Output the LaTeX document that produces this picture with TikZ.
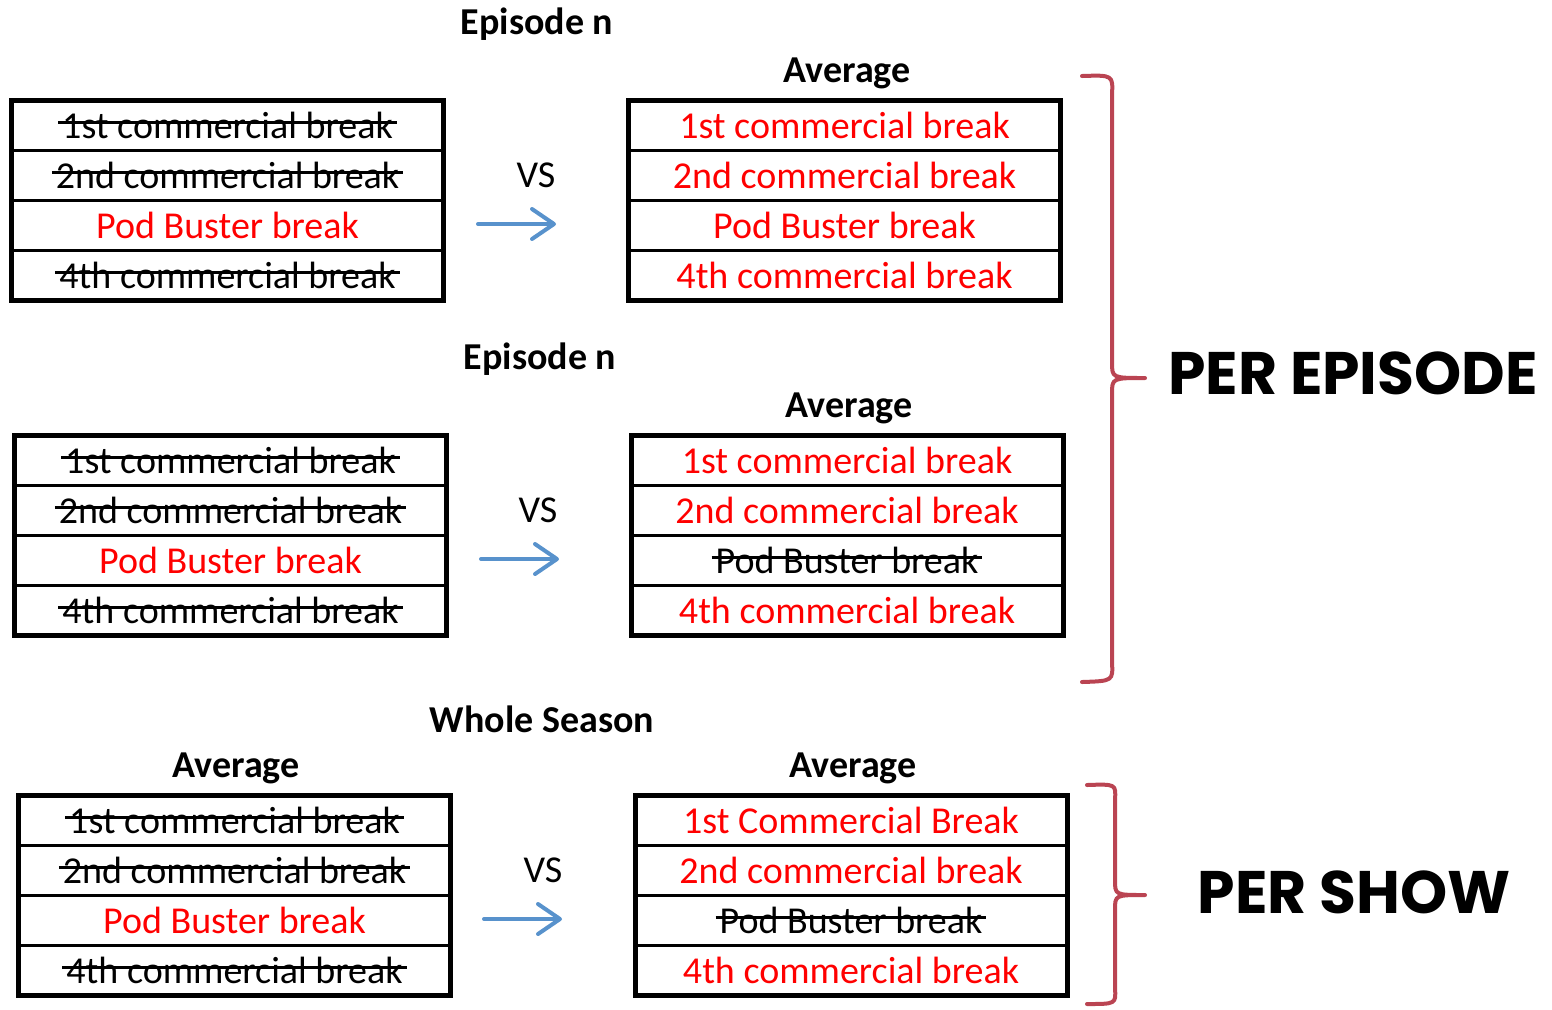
\documentclass[tikz,border=0pt]{standalone}
\usepackage{fontspec}
\setmainfont{Carlito}
\newfontfamily\labfont{Poppins}
\usetikzlibrary{arrows.meta}

\definecolor{arrblue}{RGB}{88,146,204}
\definecolor{bracered}{RGB}{186,68,82}

% struck out text
\newcommand\strk[1]{\leavevmode\setbox0\hbox{#1}%
  \makebox[0pt][l]{\hspace{-2pt}\rule[0.38em]{\dimexpr\wd0+4pt\relax}{1.4pt}}\box0}

\begin{document}
\begin{tikzpicture}[x=0.5pt,y=-0.5pt,
    brk/.style={draw,line width=1.5pt,minimum width=216pt,minimum height=25pt,
      inner sep=0pt,outer sep=0pt,font=\fontsize{19}{21}\selectfont},
    hdr/.style={font=\fontsize{19}{21}\selectfont\bfseries},
    vs/.style={font=\fontsize{19}{21}\selectfont},
    arr/.style={arrblue,line width=2pt,line cap=round,-{Straight Barb[length=11pt,width=15pt,round]}},
    brace/.style={bracered,line width=2pt,line cap=round,line join=round},
    big/.style={font=\labfont\bfseries\fontsize{30}{32}\selectfont}]
    \useasboundingbox (0,0) rectangle (1552,1009);

    % first episode
    \node[hdr] (ep1) at (537,24) {Episode n};
    \node[hdr] (av1) at (847,73) {Average};
    \node[brk] (a1) at (227.5,125.5) {\strk{1st commercial break}};
    \node[brk] (a2) at (227.5,175.5) {\strk{2nd commercial break}};
    \node[brk,text=red] (a3) at (227.5,225.5) {Pod Buster break};
    \node[brk] (a4) at (227.5,275.5) {\strk{4th commercial break}};
    \node[brk,text=red] (b1) at (844.5,125.5) {1st commercial break};
    \node[brk,text=red] (b2) at (844.5,175.5) {2nd commercial break};
    \node[brk,text=red] (b3) at (844.5,225.5) {Pod Buster break};
    \node[brk,text=red] (b4) at (844.5,275.5) {4th commercial break};
    \draw[line width=2.5pt] (a1.north west) rectangle (a4.south east);
    \draw[line width=2.5pt] (b1.north west) rectangle (b4.south east);
    \node[vs] (vs1) at (536,175) {VS};
    \coordinate (p1) at (478,224);
    \coordinate (q1) at (556,224);
    \draw[arr] (p1) -- (q1);

    % second episode
    \node[hdr] (ep2) at (540,359) {Episode n};
    \node[hdr] (av2) at (849,408) {Average};
    \node[brk] (c1) at (230.5,460.5) {\strk{1st commercial break}};
    \node[brk] (c2) at (230.5,510.5) {\strk{2nd commercial break}};
    \node[brk,text=red] (c3) at (230.5,560.5) {Pod Buster break};
    \node[brk] (c4) at (230.5,610.5) {\strk{4th commercial break}};
    \node[brk,text=red] (d1) at (847,460.5) {1st commercial break};
    \node[brk,text=red] (d2) at (847,510.5) {2nd commercial break};
    \node[brk] (d3) at (847,560.5) {\strk{Pod Buster break}};
    \node[brk,text=red] (d4) at (847,610.5) {4th commercial break};
    \draw[line width=2.5pt] (c1.north west) rectangle (c4.south east);
    \draw[line width=2.5pt] (d1.north west) rectangle (d4.south east);
    \node[vs] (vs2) at (538,510) {VS};
    \coordinate (p2) at (481,559);
    \coordinate (q2) at (559,559);
    \draw[arr] (p2) -- (q2);

    % whole season
    \node[hdr] (ws) at (542,719) {Whole Season};
    \node[hdr] (av3) at (236,768) {Average};
    \node[hdr] (av4) at (853,768) {Average};
    \node[brk] (e1) at (234.5,820.5) {\strk{1st commercial break}};
    \node[brk] (e2) at (234.5,870.5) {\strk{2nd commercial break}};
    \node[brk,text=red] (e3) at (234.5,920.5) {Pod Buster break};
    \node[brk] (e4) at (234.5,970.5) {\strk{4th commercial break}};
    \node[brk,text=red] (f1) at (851,820.5) {1st Commercial Break};
    \node[brk,text=red] (f2) at (851,870.5) {2nd commercial break};
    \node[brk] (f3) at (851,920.5) {\strk{Pod Buster break}};
    \node[brk,text=red] (f4) at (851,970.5) {4th commercial break};
    \draw[line width=2.5pt] (e1.north west) rectangle (e4.south east);
    \draw[line width=2.5pt] (f1.north west) rectangle (f4.south east);
    \node[vs] (vs3) at (543,870) {VS};
    \coordinate (p3) at (484,919);
    \coordinate (q3) at (562,919);
    \draw[arr] (p3) -- (q3);

    % braces
    \coordinate (T1) at (1082,76);
    \coordinate (T2) at (1145,378);
    \coordinate (T3) at (1082,682);
    \draw[brace] (T1) .. controls (1113,75) .. (1112,95) -- (1112,362)
      .. controls (1112,378) .. (T2) .. controls (1112,378) .. (1112,394)
      -- (1112,662) .. controls (1113,681) .. (T3);
    \coordinate (S1) at (1087,785);
    \coordinate (S2) at (1145,895);
    \coordinate (S3) at (1087,1004);
    \draw[brace] (S1) .. controls (1116,784) .. (1115,800) -- (1115,880)
      .. controls (1115,895) .. (S2) .. controls (1115,895) .. (1115,910)
      -- (1115,988) .. controls (1116,1004) .. (S3);

    \node[big] (pe) at (1353,373) {PER EPISODE};
    \node[big] (ps) at (1354,892) {PER SHOW};
\end{tikzpicture}
\end{document}
